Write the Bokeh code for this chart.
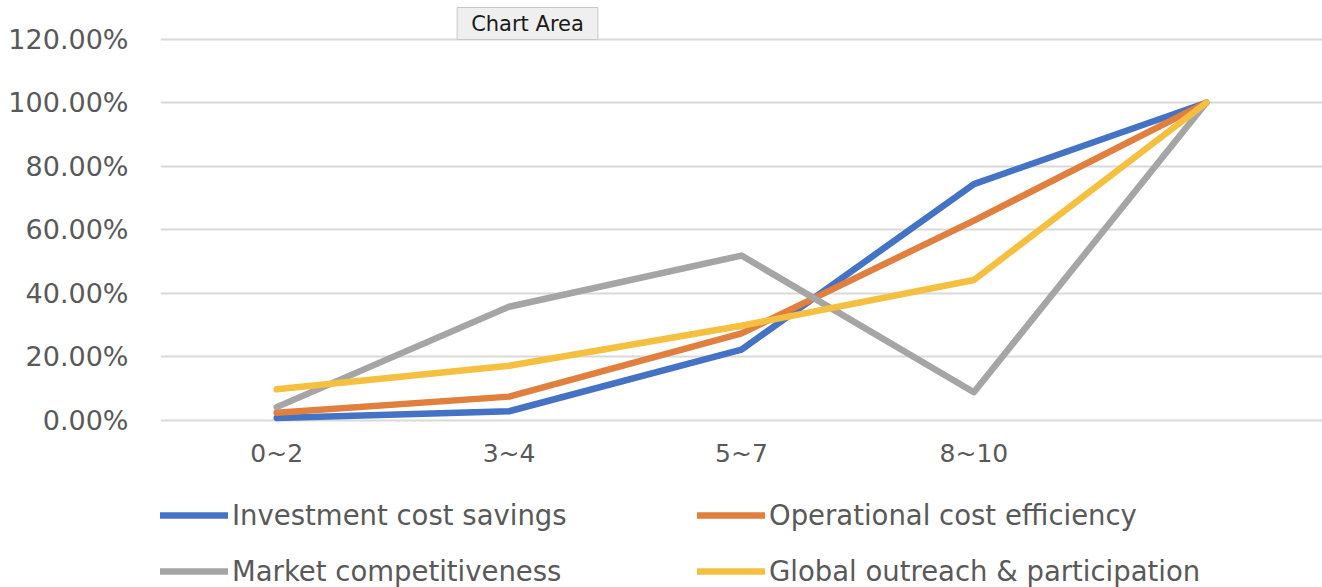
from bokeh.plotting import figure
from bokeh.layouts import column
from bokeh.models import (FactorRange, Range1d, FixedTicker, PrintfTickFormatter,
                          Legend, LegendItem, Label)
from bokeh.embed import file_html
from bokeh.resources import INLINE

# Years-of-operation bands (the last band carries no label)
categories = ["0~2", "3~4", "5~7", "8~10", " "]

# Cumulative share of respondents, in percent
investment_cost_savings = [0.8, 2.9, 22.3, 74.4, 100.0]
operational_cost_efficiency = [2.4, 7.5, 27.4, 62.9, 100.0]
market_competitiveness = [4.2, 35.8, 51.9, 8.9, 100.0]
global_outreach = [9.8, 17.2, 29.8, 44.2, 100.0]

series_names = ["Investment cost savings", "Operational cost efficiency",
                "Market competitiveness", "Global outreach & participation"]
series_values = [investment_cost_savings, operational_cost_efficiency,
                 market_competitiveness, global_outreach]
series_colors = ["#4472C4", "#E07F3E", "#A5A5A5", "#F5BF40"]

y_ticks = [0, 20, 40, 60, 80, 100, 120]

FONT = "DejaVu Sans"
TEXT_COLOR = "#595959"
LINE_WIDTH = 6.5

# main chart; the plot area reaches the top edge so the floating tag is not cut
p = figure(width=1322, height=480, x_range=FactorRange(*categories, range_padding=0),
           y_range=Range1d(-1.9, 132.17), output_backend="svg", toolbar_location=None,
           min_border_left=160, min_border_right=0, min_border_top=0,
           min_border_bottom=54)
p.outline_line_color = None
p.background_fill_color = "white"
p.border_fill_color = "white"

p.xgrid.grid_line_color = None
p.ygrid.grid_line_color = "#D9D9D9"
p.ygrid.grid_line_width = 2

p.yaxis.ticker = FixedTicker(ticks=y_ticks)
p.yaxis.formatter = PrintfTickFormatter(format="%.2f%%")
for ax in (p.xaxis[0], p.yaxis[0]):
    ax.axis_line_color = None
    ax.major_tick_line_color = None
    ax.minor_tick_line_color = None
    ax.major_tick_out = 0
    ax.major_tick_in = 0
    ax.major_label_text_font = FONT
    ax.major_label_text_color = TEXT_COLOR
p.yaxis.major_label_text_font_size = "27px"
p.xaxis.major_label_text_font_size = "25px"
p.yaxis.major_label_standoff = 32
p.xaxis.major_label_standoff = 12

for vals, col in zip(series_values, series_colors):
    p.line(x=categories, y=vals, line_width=LINE_WIDTH, line_color=col,
           line_join="round", line_cap="round")

# padding order: left, right, top, bottom
tip = Label(x=367, y=403, x_units="screen", y_units="screen", text="Chart Area",
            text_font=FONT, text_font_size="21px", text_color="#1A1A1A",
            text_align="center", text_baseline="middle",
            background_fill_color="#EFEFEF", border_line_color="#C8C8C8",
            border_line_width=1, padding=(14, 14, 4, 4))
p.add_layout(tip)

# legend strip under the chart; its key lines reuse the series but sit
# outside the strip's visible y-range, so only the legend keys show
leg = figure(width=1322, height=107, x_range=FactorRange(*categories),
             y_range=Range1d(1000, 1001), output_backend="svg",
             toolbar_location=None, x_axis_type=None, y_axis_type=None,
             min_border=0, min_border_left=0, min_border_right=0)
leg.outline_line_color = None
leg.grid.visible = False
leg.background_fill_color = "white"
leg.border_fill_color = "white"

items = []
for name, vals, col in zip(series_names, series_values, series_colors):
    key = leg.line(x=categories, y=vals, line_width=LINE_WIDTH, line_color=col,
                   line_cap="round")
    items.append(LegendItem(label=name, renderers=[key]))

legend = Legend(items=items, ncols=2, orientation="horizontal",
                location=(0, 0), glyph_width=68, glyph_height=30,
                label_height=30, label_width=441, label_standoff=4, spacing=24,
                padding=0, margin=0, border_line_color=None,
                background_fill_alpha=0, label_text_font=FONT,
                label_text_color=TEXT_COLOR, label_text_font_size="27.5px")
leg.add_layout(legend, "center")

open("out.html", "w").write(file_html(column(p, leg, spacing=0), INLINE))
